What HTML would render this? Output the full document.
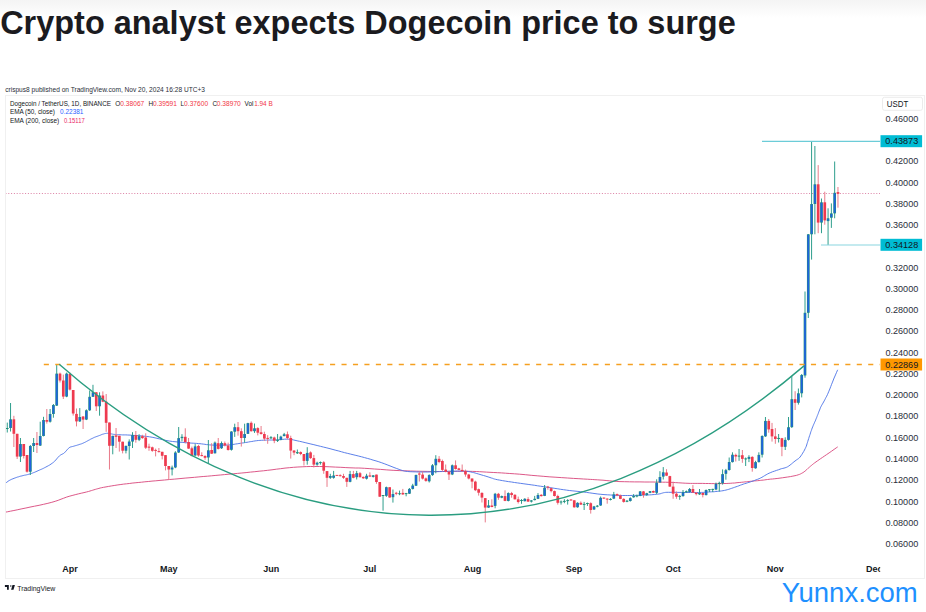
<!DOCTYPE html>
<html><head><meta charset="utf-8"><title>Dogecoin chart</title>
<style>html,body{margin:0;padding:0;background:#fff;}body{width:926px;height:612px;overflow:hidden;position:relative;font-family:"Liberation Sans",sans-serif;}</style>
</head><body>
<svg width="926" height="612" viewBox="0 0 926 612" style="position:absolute;left:0;top:0">
<defs><linearGradient id="tg" x1="0" y1="0" x2="0" y2="1"><stop offset="0" stop-color="#f4f4f4"/><stop offset="1" stop-color="#ffffff"/></linearGradient><clipPath id="plot"><rect x="6" y="96" width="874" height="458"/></clipPath></defs>
<rect x="0" y="0" width="926" height="18" fill="url(#tg)"/>
<rect x="5.5" y="95.5" width="919" height="483" fill="none" stroke="#f0f0f0" stroke-width="1"/>
<text x="0.2" y="34.3" font-family="Liberation Sans" font-weight="700" font-size="33.2" textLength="735.5" lengthAdjust="spacingAndGlyphs" fill="#1b1b1f">Crypto analyst expects Dogecoin price to surge</text>
<text x="5.2" y="91.5" font-family="Liberation Sans" font-size="6.6" fill="#2a2e39">crispus8 published on TradingView.com, Nov 20, 2024 16:28 UTC+3</text>
<text x="9.9" y="106" font-family="Liberation Sans" font-size="6.4" textLength="101" lengthAdjust="spacingAndGlyphs" fill="#131722">Dogecoin / TetherUS, 1D, BINANCE</text>
<text x="115.3" y="106" font-family="Liberation Sans" font-size="6.4" fill="#131722">O</text><text x="120.3" y="106" font-family="Liberation Sans" font-size="6.4" textLength="24" lengthAdjust="spacingAndGlyphs" fill="#f23645">0.38067</text>
<text x="148.6" y="106" font-family="Liberation Sans" font-size="6.4" fill="#131722">H</text><text x="153.0" y="106" font-family="Liberation Sans" font-size="6.4" textLength="24" lengthAdjust="spacingAndGlyphs" fill="#f23645">0.39591</text>
<text x="180.5" y="106" font-family="Liberation Sans" font-size="6.4" fill="#131722">L</text><text x="184.1" y="106" font-family="Liberation Sans" font-size="6.4" textLength="24" lengthAdjust="spacingAndGlyphs" fill="#f23645">0.37600</text>
<text x="212.4" y="106" font-family="Liberation Sans" font-size="6.4" fill="#131722">C</text><text x="216.8" y="106" font-family="Liberation Sans" font-size="6.4" textLength="24" lengthAdjust="spacingAndGlyphs" fill="#f23645">0.38970</text>
<text x="244.6" y="106" font-family="Liberation Sans" font-size="6.4" fill="#131722">Vol</text><text x="254.2" y="106" font-family="Liberation Sans" font-size="6.4" fill="#f23645">1.94 B</text>
<text x="9.9" y="114.2" font-family="Liberation Sans" font-size="6.4" textLength="45" lengthAdjust="spacingAndGlyphs" fill="#131722">EMA (50, close)</text><text x="60.1" y="114.2" font-family="Liberation Sans" font-size="6.4" textLength="23.3" lengthAdjust="spacingAndGlyphs" fill="#2962ff">0.22381</text>
<text x="9.9" y="122.5" font-family="Liberation Sans" font-size="6.4" textLength="49.4" lengthAdjust="spacingAndGlyphs" fill="#131722">EMA (200, close)</text><text x="64.0" y="122.5" font-family="Liberation Sans" font-size="6.4" textLength="20.7" lengthAdjust="spacingAndGlyphs" fill="#e91e63">0.15117</text>
<rect x="882.5" y="97.3" width="40" height="13" rx="2" fill="#fff" stroke="#e6e6e6" stroke-width="0.8"/>
<text x="886.8" y="106.7" font-family="Liberation Sans" font-size="8.3" textLength="21.4" lengthAdjust="spacingAndGlyphs" fill="#131722">USDT</text>
<text x="918.3" y="121.8" text-anchor="end" font-family="Liberation Sans" font-size="9.1" fill="#2a2e39">0.46000</text>
<text x="918.3" y="164.3" text-anchor="end" font-family="Liberation Sans" font-size="9.1" fill="#2a2e39">0.42000</text>
<text x="918.3" y="185.6" text-anchor="end" font-family="Liberation Sans" font-size="9.1" fill="#2a2e39">0.40000</text>
<text x="918.3" y="206.8" text-anchor="end" font-family="Liberation Sans" font-size="9.1" fill="#2a2e39">0.38000</text>
<text x="918.3" y="228.1" text-anchor="end" font-family="Liberation Sans" font-size="9.1" fill="#2a2e39">0.36000</text>
<text x="918.3" y="270.6" text-anchor="end" font-family="Liberation Sans" font-size="9.1" fill="#2a2e39">0.32000</text>
<text x="918.3" y="291.9" text-anchor="end" font-family="Liberation Sans" font-size="9.1" fill="#2a2e39">0.30000</text>
<text x="918.3" y="313.1" text-anchor="end" font-family="Liberation Sans" font-size="9.1" fill="#2a2e39">0.28000</text>
<text x="918.3" y="334.4" text-anchor="end" font-family="Liberation Sans" font-size="9.1" fill="#2a2e39">0.26000</text>
<text x="918.3" y="355.7" text-anchor="end" font-family="Liberation Sans" font-size="9.1" fill="#2a2e39">0.24000</text>
<text x="918.3" y="376.9" text-anchor="end" font-family="Liberation Sans" font-size="9.1" fill="#2a2e39">0.22000</text>
<text x="918.3" y="398.2" text-anchor="end" font-family="Liberation Sans" font-size="9.1" fill="#2a2e39">0.20000</text>
<text x="918.3" y="419.4" text-anchor="end" font-family="Liberation Sans" font-size="9.1" fill="#2a2e39">0.18000</text>
<text x="918.3" y="440.7" text-anchor="end" font-family="Liberation Sans" font-size="9.1" fill="#2a2e39">0.16000</text>
<text x="918.3" y="462.0" text-anchor="end" font-family="Liberation Sans" font-size="9.1" fill="#2a2e39">0.14000</text>
<text x="918.3" y="483.2" text-anchor="end" font-family="Liberation Sans" font-size="9.1" fill="#2a2e39">0.12000</text>
<text x="918.3" y="504.5" text-anchor="end" font-family="Liberation Sans" font-size="9.1" fill="#2a2e39">0.10000</text>
<text x="918.3" y="525.7" text-anchor="end" font-family="Liberation Sans" font-size="9.1" fill="#2a2e39">0.08000</text>
<text x="918.3" y="547.0" text-anchor="end" font-family="Liberation Sans" font-size="9.1" fill="#2a2e39">0.06000</text>
<text x="70" y="572.1" text-anchor="middle" font-family="Liberation Sans" font-weight="700" font-size="9" fill="#131722">Apr</text>
<text x="168.7" y="572.1" text-anchor="middle" font-family="Liberation Sans" font-weight="700" font-size="9" fill="#131722">May</text>
<text x="271.2" y="572.1" text-anchor="middle" font-family="Liberation Sans" font-weight="700" font-size="9" fill="#131722">Jun</text>
<text x="369.7" y="572.1" text-anchor="middle" font-family="Liberation Sans" font-weight="700" font-size="9" fill="#131722">Jul</text>
<text x="472.4" y="572.1" text-anchor="middle" font-family="Liberation Sans" font-weight="700" font-size="9" fill="#131722">Aug</text>
<text x="574.1" y="572.1" text-anchor="middle" font-family="Liberation Sans" font-weight="700" font-size="9" fill="#131722">Sep</text>
<text x="673.2" y="572.1" text-anchor="middle" font-family="Liberation Sans" font-weight="700" font-size="9" fill="#131722">Oct</text>
<text x="775.3" y="572.1" text-anchor="middle" font-family="Liberation Sans" font-weight="700" font-size="9" fill="#131722">Nov</text>
<clipPath id="dc"><rect x="0" y="550" width="880.2" height="30"/></clipPath><text clip-path="url(#dc)" x="874.3" y="572.1" text-anchor="middle" font-family="Liberation Sans" font-weight="700" font-size="9" fill="#131722">Dec</text>
<g clip-path="url(#plot)">
<line x1="5.5" y1="193.5" x2="880" y2="193.5" stroke="#d8729a" stroke-width="0.9" stroke-dasharray="1,1.8"/>
<polyline points="5.2,512.2 7.4,511.8 10.4,511.2 13.9,510.5 17.8,509.7 21.9,508.8 25.9,508.0 30.0,507.1 34.5,506.2 39.1,505.3 43.6,504.3 47.9,503.3 51.8,502.3 55.2,501.3 58.2,500.3 61.0,499.2 63.7,498.2 66.3,497.2 69.1,496.3 72.1,495.5 75.2,494.7 78.3,493.9 81.3,493.2 84.0,492.6 86.4,492.0 88.4,491.5 90.0,491.0 91.4,490.6 92.7,490.2 93.9,489.8 95.3,489.4 96.6,489.0 97.8,488.7 98.9,488.4 100.2,488.0 101.7,487.7 103.6,487.3 106.0,486.9 108.7,486.4 111.7,485.9 114.8,485.4 117.9,484.9 120.9,484.5 123.7,484.1 126.5,483.8 129.3,483.5 132.1,483.1 135.1,482.8 138.2,482.5 141.5,482.2 144.8,481.8 148.3,481.5 152.0,481.1 155.8,480.8 160.0,480.4 164.6,480.0 169.5,479.5 174.7,479.1 180.0,478.6 185.1,478.1 190.0,477.7 194.6,477.3 198.9,476.9 203.2,476.5 207.4,476.2 211.6,475.8 215.9,475.4 220.2,475.0 224.5,474.6 228.9,474.2 233.2,473.8 237.5,473.4 241.8,473.0 246.1,472.6 250.4,472.1 254.8,471.7 259.1,471.2 263.4,470.8 267.7,470.3 272.0,469.8 276.3,469.2 280.6,468.7 285.0,468.1 289.3,467.7 293.6,467.3 297.9,467.0 302.1,466.8 306.3,466.6 310.5,466.5 314.9,466.5 319.5,466.5 324.5,466.6 329.9,466.8 335.5,467.1 340.8,467.3 345.8,467.6 350.0,467.8 353.1,467.9 355.3,468.0 357.0,468.0 358.8,468.0 361.1,468.1 364.5,468.3 369.1,468.6 374.5,469.0 380.6,469.4 386.8,469.9 393.1,470.3 399.1,470.6 404.9,470.8 410.6,471.0 416.4,471.2 422.1,471.3 427.8,471.4 433.6,471.5 439.5,471.5 445.6,471.5 451.7,471.4 457.6,471.3 463.2,471.3 468.2,471.3 472.5,471.4 476.3,471.5 479.7,471.7 483.0,471.9 486.4,472.1 490.0,472.3 493.8,472.5 497.6,472.7 501.4,472.9 505.5,473.2 509.8,473.5 514.5,473.8 519.7,474.2 525.3,474.7 531.2,475.3 537.2,475.8 543.2,476.3 549.1,476.8 555.1,477.2 561.3,477.6 567.5,478.0 573.4,478.4 578.9,478.7 583.6,479.0 587.3,479.2 590.3,479.4 592.7,479.5 594.9,479.7 597.3,479.8 600.0,480.0 603.0,480.2 606.1,480.5 609.2,480.8 612.5,481.1 616.1,481.4 620.0,481.6 624.4,481.7 629.4,481.8 634.6,481.9 639.9,481.9 644.8,482.0 649.2,482.0 653.0,482.0 656.4,482.1 659.5,482.1 662.5,482.2 665.5,482.2 668.6,482.3 671.9,482.4 675.3,482.6 678.8,482.8 682.1,483.0 685.2,483.2 688.0,483.3 690.4,483.4 692.4,483.4 694.1,483.4 695.9,483.4 697.8,483.4 700.0,483.4 702.6,483.4 705.5,483.5 708.6,483.5 711.7,483.6 714.6,483.6 717.3,483.6 719.7,483.6 721.9,483.6 724.0,483.5 726.1,483.5 728.1,483.4 730.2,483.3 732.4,483.1 734.7,483.0 737.0,482.7 739.2,482.5 741.3,482.3 743.2,482.1 744.9,481.9 746.4,481.8 747.8,481.6 749.1,481.5 750.4,481.3 751.8,481.2 753.2,481.1 754.7,480.9 756.1,480.8 757.6,480.7 759.1,480.5 760.5,480.4 761.9,480.2 763.3,480.1 764.7,479.9 766.1,479.7 767.5,479.5 769.1,479.3 770.7,479.1 772.4,479.0 774.2,478.8 776.0,478.6 777.9,478.4 780.0,478.1 782.3,477.8 785.0,477.4 787.7,477.0 790.4,476.6 792.9,476.1 795.0,475.7 796.7,475.3 798.2,474.8 799.5,474.4 800.6,473.9 801.7,473.3 802.8,472.7 803.9,472.0 804.9,471.2 805.9,470.4 806.8,469.5 807.7,468.6 808.7,467.8 809.6,467.0 810.5,466.2 811.4,465.5 812.3,464.7 813.4,463.8 814.6,462.9 816.0,461.9 817.4,460.9 819.0,459.8 820.7,458.6 822.5,457.4 824.4,456.1 826.6,454.6 829.1,452.9 831.7,451.1 834.1,449.4 836.2,447.9 837.7,446.9" fill="none" stroke="#d8457a" stroke-width="0.9"/>
<polyline points="5.2,483.4 5.7,483.0 6.3,482.6 7.1,482.0 8.0,481.3 8.9,480.7 9.8,480.2 10.8,479.7 11.8,479.2 12.9,478.8 14.1,478.3 15.2,477.9 16.3,477.5 17.4,477.1 18.6,476.8 19.7,476.4 20.8,476.1 21.9,475.9 22.9,475.6 23.8,475.4 24.6,475.2 25.3,475.1 26.0,474.9 26.7,474.8 27.5,474.6 28.3,474.4 29.1,474.2 30.0,473.9 30.8,473.6 31.8,473.3 32.7,473.0 33.7,472.6 34.8,472.2 35.9,471.7 37.0,471.2 38.1,470.7 39.2,470.2 40.3,469.7 41.3,469.3 42.4,468.8 43.5,468.3 44.6,467.7 45.8,467.1 47.1,466.4 48.4,465.7 49.8,464.9 51.1,464.0 52.4,463.1 53.6,462.2 54.7,461.2 55.7,460.1 56.7,458.9 57.6,457.8 58.5,456.8 59.4,455.9 60.3,455.2 61.1,454.7 61.9,454.3 62.7,453.9 63.5,453.5 64.3,452.9 65.1,452.1 65.9,451.2 66.8,450.2 67.6,449.2 68.4,448.4 69.2,447.7 70.0,447.2 70.8,446.9 71.7,446.7 72.5,446.5 73.3,446.3 74.1,446.1 74.9,445.8 75.7,445.6 76.5,445.4 77.4,445.1 78.2,444.9 79.0,444.6 79.8,444.3 80.6,444.1 81.5,443.8 82.3,443.5 83.1,443.1 83.9,442.8 84.7,442.4 85.5,442.0 86.4,441.5 87.2,441.1 88.0,440.6 88.8,440.2 89.6,439.8 90.4,439.3 91.2,438.9 92.1,438.5 92.9,438.1 93.7,437.7 94.5,437.3 95.3,437.0 96.2,436.7 97.0,436.4 97.8,436.1 98.6,435.8 99.4,435.5 100.3,435.2 101.1,434.8 101.9,434.5 102.7,434.2 103.5,434.0 104.2,433.8 104.8,433.6 105.4,433.5 106.1,433.4 106.7,433.3 107.5,433.3 108.4,433.4 109.3,433.5 110.2,433.7 111.2,433.9 112.3,434.1 113.3,434.3 114.3,434.4 115.3,434.5 116.4,434.6 117.5,434.7 118.7,434.7 120.0,434.8 121.4,434.8 122.7,434.9 124.2,434.9 125.8,434.9 127.7,435.0 130.0,435.1 132.7,435.3 135.8,435.5 139.2,435.7 142.7,436.0 146.2,436.4 149.6,436.8 152.9,437.4 156.1,438.1 159.4,438.9 162.7,439.7 165.9,440.4 169.2,441.0 172.6,441.5 176.0,441.8 179.5,442.2 182.9,442.4 186.0,442.7 188.8,442.9 191.2,443.1 193.2,443.2 195.0,443.3 196.7,443.4 198.3,443.6 200.0,443.7 201.7,443.9 203.3,444.1 204.9,444.3 206.5,444.6 208.1,444.7 209.7,444.9 211.3,445.0 212.9,445.1 214.5,445.1 216.2,445.2 217.8,445.2 219.4,445.2 221.0,445.2 222.7,445.2 224.3,445.2 225.9,445.1 227.6,445.0 229.2,444.9 230.8,444.7 232.4,444.5 234.1,444.3 235.7,444.0 237.3,443.8 238.9,443.5 240.5,443.3 242.1,443.0 243.8,442.8 245.4,442.5 247.0,442.3 248.6,442.0 250.2,441.7 251.8,441.5 253.4,441.2 255.1,440.9 256.7,440.7 258.3,440.5 259.9,440.4 261.5,440.3 263.2,440.2 264.8,440.2 266.4,440.1 268.0,440.1 269.6,440.0 271.2,440.0 272.8,440.0 274.5,439.9 276.1,439.9 277.7,439.8 279.4,439.7 281.0,439.5 282.7,439.4 284.4,439.2 286.0,439.1 287.5,439.1 288.8,439.2 289.9,439.3 290.9,439.4 292.0,439.6 293.3,439.9 295.0,440.3 297.1,440.8 299.6,441.3 302.2,441.9 305.1,442.6 308.0,443.3 310.9,444.0 313.9,444.7 317.1,445.5 320.4,446.3 323.6,447.1 326.9,447.9 330.0,448.7 333.0,449.5 335.9,450.3 338.8,451.0 341.6,451.8 344.4,452.6 347.3,453.3 350.2,454.0 353.0,454.7 355.9,455.4 358.8,456.1 361.6,456.8 364.5,457.6 367.4,458.4 370.3,459.2 373.1,460.1 376.0,460.9 378.9,461.8 381.8,462.8 384.8,463.9 387.9,465.1 391.0,466.3 394.0,467.5 396.7,468.5 399.1,469.4 400.9,470.0 402.3,470.5 403.4,470.8 404.5,471.1 405.9,471.3 407.7,471.5 410.1,471.7 412.8,471.8 415.8,471.9 418.9,472.0 422.0,472.0 425.0,472.0 427.9,472.0 430.8,471.9 433.7,471.8 436.5,471.7 439.4,471.6 442.3,471.5 445.3,471.4 448.4,471.3 451.4,471.2 454.4,471.2 457.1,471.1 459.5,471.1 461.4,471.1 463.0,471.1 464.4,471.2 465.6,471.2 466.9,471.3 468.2,471.5 469.6,471.7 470.9,472.0 472.2,472.3 473.6,472.6 475.1,473.0 476.8,473.5 478.8,474.1 481.1,474.8 483.5,475.5 485.9,476.2 488.1,476.9 490.0,477.5 491.4,478.0 492.5,478.3 493.4,478.7 494.4,479.0 495.6,479.3 497.3,479.7 499.6,480.1 502.3,480.6 505.3,481.1 508.4,481.6 511.5,482.0 514.5,482.5 517.4,482.9 520.3,483.3 523.1,483.7 526.0,484.1 528.9,484.5 531.8,484.9 534.7,485.3 537.6,485.8 540.4,486.2 543.3,486.6 546.2,487.1 549.1,487.5 552.0,487.9 554.9,488.4 557.8,488.8 560.6,489.3 563.5,489.7 566.4,490.1 569.3,490.5 572.1,490.8 575.0,491.1 577.9,491.4 580.7,491.7 583.6,492.0 586.5,492.4 589.3,492.8 592.1,493.2 595.0,493.6 597.9,494.0 600.9,494.3 604.0,494.6 607.3,494.8 610.6,495.0 613.9,495.2 617.1,495.3 620.0,495.4 622.7,495.5 625.2,495.5 627.6,495.5 629.9,495.5 632.2,495.4 634.6,495.4 637.1,495.4 639.6,495.3 642.2,495.2 644.7,495.1 647.1,495.0 649.2,494.9 651.2,494.8 653.0,494.6 654.7,494.5 656.2,494.3 657.6,494.2 658.9,494.0 660.0,493.8 660.9,493.6 661.6,493.3 662.3,493.1 663.0,492.9 663.7,492.7 664.3,492.6 664.8,492.5 665.2,492.4 665.9,492.4 666.9,492.3 668.6,492.3 671.1,492.3 674.3,492.3 677.9,492.4 681.5,492.4 685.0,492.5 688.0,492.5 690.5,492.5 692.7,492.5 694.7,492.5 696.5,492.5 698.3,492.5 700.0,492.5 701.6,492.4 703.1,492.4 704.5,492.3 705.9,492.2 707.2,492.1 708.6,492.0 710.0,491.9 711.5,491.8 713.0,491.8 714.4,491.7 715.9,491.5 717.3,491.4 718.7,491.2 720.2,491.1 721.6,490.9 723.0,490.7 724.5,490.4 725.9,490.1 727.3,489.7 728.8,489.3 730.2,488.8 731.7,488.3 733.2,487.8 734.6,487.3 736.0,486.8 737.5,486.3 738.9,485.8 740.3,485.2 741.8,484.7 743.2,484.2 744.6,483.7 746.1,483.3 747.5,482.8 748.9,482.4 750.4,481.9 751.8,481.4 753.2,480.9 754.7,480.4 756.1,479.8 757.6,479.3 759.1,478.7 760.5,478.0 761.9,477.3 763.3,476.5 764.7,475.6 766.1,474.8 767.5,474.0 769.1,473.2 770.8,472.5 772.7,471.7 774.6,471.1 776.5,470.4 778.4,469.8 780.0,469.2 781.4,468.7 782.8,468.4 784.0,468.1 785.1,467.8 786.3,467.4 787.5,466.8 788.8,466.0 790.1,465.0 791.4,464.0 792.7,462.9 793.9,461.9 795.0,461.0 796.0,460.3 796.8,459.7 797.6,459.2 798.4,458.7 799.2,458.0 800.0,457.1 800.9,455.9 801.8,454.6 802.7,453.1 803.7,451.5 804.5,450.0 805.2,448.6 805.8,447.3 806.3,446.2 806.7,445.0 807.0,443.8 807.4,442.7 807.8,441.4 808.2,440.0 808.7,438.6 809.1,437.1 809.6,435.7 810.1,434.3 810.5,432.9 810.9,431.6 811.4,430.4 811.8,429.2 812.2,428.0 812.7,426.9 813.1,425.8 813.5,424.8 814.0,423.8 814.4,422.8 814.8,421.9 815.3,420.9 815.7,419.9 816.1,418.8 816.6,417.7 817.0,416.6 817.4,415.5 817.9,414.4 818.3,413.3 818.7,412.2 819.1,411.1 819.6,410.0 820.0,408.9 820.4,407.8 820.9,406.8 821.4,405.8 821.9,404.9 822.5,403.9 823.0,403.0 823.6,402.0 824.2,400.9 824.8,399.8 825.4,398.6 826.0,397.4 826.7,396.2 827.4,394.7 828.1,393.1 828.9,391.2 829.8,389.0 830.7,386.7 831.6,384.3 832.5,382.1 833.3,380.0 834.1,378.0 835.0,376.0 835.8,374.1 836.6,372.3 837.2,370.9 837.7,369.8" fill="none" stroke="#4a72e6" stroke-width="0.9"/>
<g stroke-width="1"><line x1="7.27" y1="422.6" x2="7.27" y2="432.5" stroke="#2e9e8c"/><line x1="10.56" y1="403.0" x2="10.56" y2="431.5" stroke="#2e9e8c"/><line x1="13.86" y1="415.8" x2="13.86" y2="447.0" stroke="#e97a89"/><line x1="17.16" y1="433.8" x2="17.16" y2="459.0" stroke="#e97a89"/><line x1="20.45" y1="438.0" x2="20.45" y2="462.0" stroke="#2e9e8c"/><line x1="23.75" y1="444.0" x2="23.75" y2="458.5" stroke="#e97a89"/><line x1="27.05" y1="455.0" x2="27.05" y2="472.6" stroke="#e97a89"/><line x1="30.34" y1="445.0" x2="30.34" y2="475.0" stroke="#2e9e8c"/><line x1="33.64" y1="438.0" x2="33.64" y2="452.0" stroke="#2e9e8c"/><line x1="36.93" y1="432.0" x2="36.93" y2="453.0" stroke="#e97a89"/><line x1="40.23" y1="421.7" x2="40.23" y2="446.0" stroke="#2e9e8c"/><line x1="43.53" y1="416.8" x2="43.53" y2="436.4" stroke="#2e9e8c"/><line x1="46.82" y1="409.0" x2="46.82" y2="423.6" stroke="#e97a89"/><line x1="50.12" y1="409.0" x2="50.12" y2="422.6" stroke="#2e9e8c"/><line x1="53.42" y1="404.0" x2="53.42" y2="417.7" stroke="#2e9e8c"/><line x1="56.71" y1="364.0" x2="56.71" y2="406.0" stroke="#2e9e8c"/><line x1="60.01" y1="372.6" x2="60.01" y2="382.5" stroke="#e97a89"/><line x1="63.31" y1="374.6" x2="63.31" y2="399.0" stroke="#e97a89"/><line x1="66.60" y1="372.6" x2="66.60" y2="397.2" stroke="#2e9e8c"/><line x1="69.90" y1="372.6" x2="69.90" y2="390.5" stroke="#e97a89"/><line x1="73.19" y1="390.0" x2="73.19" y2="415.6" stroke="#e97a89"/><line x1="76.49" y1="408.5" x2="76.49" y2="426.4" stroke="#e97a89"/><line x1="79.79" y1="408.1" x2="79.79" y2="422.0" stroke="#2e9e8c"/><line x1="83.08" y1="416.0" x2="83.08" y2="429.0" stroke="#e97a89"/><line x1="86.38" y1="409.4" x2="86.38" y2="420.1" stroke="#2e9e8c"/><line x1="89.68" y1="390.5" x2="89.68" y2="411.0" stroke="#2e9e8c"/><line x1="92.97" y1="384.8" x2="92.97" y2="396.8" stroke="#2e9e8c"/><line x1="96.27" y1="392.0" x2="96.27" y2="411.0" stroke="#e97a89"/><line x1="99.57" y1="392.3" x2="99.57" y2="415.7" stroke="#2e9e8c"/><line x1="102.86" y1="391.4" x2="102.86" y2="402.2" stroke="#e97a89"/><line x1="106.16" y1="394.0" x2="106.16" y2="431.8" stroke="#e97a89"/><line x1="109.46" y1="422.5" x2="109.46" y2="469.5" stroke="#e97a89"/><line x1="112.75" y1="435.8" x2="112.75" y2="454.3" stroke="#2e9e8c"/><line x1="116.05" y1="428.0" x2="116.05" y2="448.0" stroke="#e97a89"/><line x1="119.34" y1="435.8" x2="119.34" y2="451.6" stroke="#e97a89"/><line x1="122.64" y1="441.7" x2="122.64" y2="453.4" stroke="#e97a89"/><line x1="125.94" y1="445.8" x2="125.94" y2="453.4" stroke="#2e9e8c"/><line x1="129.23" y1="439.4" x2="129.23" y2="459.5" stroke="#2e9e8c"/><line x1="132.53" y1="432.2" x2="132.53" y2="448.0" stroke="#2e9e8c"/><line x1="135.83" y1="431.0" x2="135.83" y2="442.7" stroke="#e97a89"/><line x1="139.12" y1="434.2" x2="139.12" y2="441.1" stroke="#2e9e8c"/><line x1="142.42" y1="434.8" x2="142.42" y2="438.8" stroke="#e97a89"/><line x1="145.72" y1="433.3" x2="145.72" y2="449.0" stroke="#e97a89"/><line x1="149.01" y1="443.7" x2="149.01" y2="450.8" stroke="#e97a89"/><line x1="152.31" y1="446.6" x2="152.31" y2="451.8" stroke="#e97a89"/><line x1="155.61" y1="448.6" x2="155.61" y2="456.4" stroke="#e97a89"/><line x1="158.90" y1="448.0" x2="158.90" y2="452.5" stroke="#e97a89"/><line x1="162.20" y1="451.8" x2="162.20" y2="459.4" stroke="#e97a89"/><line x1="165.49" y1="455.1" x2="165.49" y2="470.4" stroke="#e97a89"/><line x1="168.79" y1="466.0" x2="168.79" y2="480.0" stroke="#e97a89"/><line x1="172.09" y1="465.6" x2="172.09" y2="475.4" stroke="#2e9e8c"/><line x1="175.38" y1="451.2" x2="175.38" y2="468.2" stroke="#2e9e8c"/><line x1="178.68" y1="427.0" x2="178.68" y2="453.0" stroke="#2e9e8c"/><line x1="181.98" y1="434.2" x2="181.98" y2="441.4" stroke="#2e9e8c"/><line x1="185.27" y1="428.3" x2="185.27" y2="443.4" stroke="#e97a89"/><line x1="188.57" y1="438.0" x2="188.57" y2="448.9" stroke="#e97a89"/><line x1="191.87" y1="446.6" x2="191.87" y2="456.3" stroke="#e97a89"/><line x1="195.16" y1="444.1" x2="195.16" y2="456.3" stroke="#2e9e8c"/><line x1="198.46" y1="444.9" x2="198.46" y2="456.7" stroke="#e97a89"/><line x1="201.75" y1="452.3" x2="201.75" y2="456.3" stroke="#e97a89"/><line x1="205.05" y1="455.2" x2="205.05" y2="459.8" stroke="#e97a89"/><line x1="208.35" y1="440.0" x2="208.35" y2="463.2" stroke="#2e9e8c"/><line x1="211.64" y1="443.2" x2="211.64" y2="454.0" stroke="#e97a89"/><line x1="214.94" y1="441.5" x2="214.94" y2="453.5" stroke="#2e9e8c"/><line x1="218.24" y1="438.0" x2="218.24" y2="449.5" stroke="#e97a89"/><line x1="221.53" y1="441.5" x2="221.53" y2="448.9" stroke="#2e9e8c"/><line x1="224.83" y1="441.5" x2="224.83" y2="446.4" stroke="#e97a89"/><line x1="228.13" y1="442.6" x2="228.13" y2="450.6" stroke="#e97a89"/><line x1="231.42" y1="431.2" x2="231.42" y2="450.6" stroke="#2e9e8c"/><line x1="234.72" y1="423.7" x2="234.72" y2="436.9" stroke="#2e9e8c"/><line x1="238.02" y1="422.0" x2="238.02" y2="435.7" stroke="#e97a89"/><line x1="241.31" y1="428.3" x2="241.31" y2="446.6" stroke="#e97a89"/><line x1="244.61" y1="423.7" x2="244.61" y2="442.6" stroke="#2e9e8c"/><line x1="247.90" y1="422.8" x2="247.90" y2="434.0" stroke="#2e9e8c"/><line x1="251.20" y1="421.4" x2="251.20" y2="431.7" stroke="#e97a89"/><line x1="254.50" y1="423.5" x2="254.50" y2="432.9" stroke="#2e9e8c"/><line x1="257.79" y1="427.2" x2="257.79" y2="435.4" stroke="#e97a89"/><line x1="261.09" y1="426.0" x2="261.09" y2="434.6" stroke="#e97a89"/><line x1="264.39" y1="431.7" x2="264.39" y2="440.9" stroke="#e97a89"/><line x1="267.68" y1="435.2" x2="267.68" y2="443.8" stroke="#e97a89"/><line x1="270.98" y1="436.1" x2="270.98" y2="438.8" stroke="#2e9e8c"/><line x1="274.28" y1="436.6" x2="274.28" y2="443.2" stroke="#e97a89"/><line x1="277.57" y1="434.0" x2="277.57" y2="442.0" stroke="#2e9e8c"/><line x1="280.87" y1="435.7" x2="280.87" y2="440.3" stroke="#2e9e8c"/><line x1="284.16" y1="432.9" x2="284.16" y2="436.3" stroke="#2e9e8c"/><line x1="287.46" y1="431.5" x2="287.46" y2="439.5" stroke="#e97a89"/><line x1="290.76" y1="435.7" x2="290.76" y2="458.6" stroke="#e97a89"/><line x1="294.05" y1="450.0" x2="294.05" y2="455.2" stroke="#e97a89"/><line x1="297.35" y1="449.5" x2="297.35" y2="454.0" stroke="#2e9e8c"/><line x1="300.65" y1="451.4" x2="300.65" y2="455.2" stroke="#e97a89"/><line x1="303.94" y1="454.0" x2="303.94" y2="465.5" stroke="#e97a89"/><line x1="307.24" y1="447.2" x2="307.24" y2="464.7" stroke="#2e9e8c"/><line x1="310.54" y1="451.4" x2="310.54" y2="458.9" stroke="#e97a89"/><line x1="313.83" y1="454.9" x2="313.83" y2="467.5" stroke="#e97a89"/><line x1="317.13" y1="461.7" x2="317.13" y2="465.7" stroke="#2e9e8c"/><line x1="320.43" y1="461.5" x2="320.43" y2="464.6" stroke="#2e9e8c"/><line x1="323.72" y1="461.2" x2="323.72" y2="473.8" stroke="#e97a89"/><line x1="327.02" y1="471.1" x2="327.02" y2="486.9" stroke="#e97a89"/><line x1="330.31" y1="473.8" x2="330.31" y2="478.9" stroke="#2e9e8c"/><line x1="333.61" y1="470.9" x2="333.61" y2="478.7" stroke="#2e9e8c"/><line x1="336.91" y1="475.0" x2="336.91" y2="476.0" stroke="#e97a89"/><line x1="340.20" y1="474.3" x2="340.20" y2="476.4" stroke="#e97a89"/><line x1="343.50" y1="473.8" x2="343.50" y2="478.9" stroke="#e97a89"/><line x1="346.80" y1="477.8" x2="346.80" y2="486.9" stroke="#e97a89"/><line x1="350.09" y1="470.9" x2="350.09" y2="482.3" stroke="#2e9e8c"/><line x1="353.39" y1="470.9" x2="353.39" y2="478.3" stroke="#e97a89"/><line x1="356.69" y1="470.9" x2="356.69" y2="479.5" stroke="#2e9e8c"/><line x1="359.98" y1="472.0" x2="359.98" y2="477.5" stroke="#e97a89"/><line x1="363.28" y1="476.4" x2="363.28" y2="478.9" stroke="#e97a89"/><line x1="366.57" y1="473.8" x2="366.57" y2="479.5" stroke="#2e9e8c"/><line x1="369.87" y1="472.3" x2="369.87" y2="476.9" stroke="#e97a89"/><line x1="373.17" y1="475.0" x2="373.17" y2="477.5" stroke="#2e9e8c"/><line x1="376.46" y1="474.6" x2="376.46" y2="483.8" stroke="#e97a89"/><line x1="379.76" y1="482.0" x2="379.76" y2="496.9" stroke="#e97a89"/><line x1="383.06" y1="495.2" x2="383.06" y2="510.7" stroke="#2e9e8c"/><line x1="386.35" y1="486.6" x2="386.35" y2="496.9" stroke="#2e9e8c"/><line x1="389.65" y1="487.2" x2="389.65" y2="497.8" stroke="#e97a89"/><line x1="392.95" y1="489.5" x2="392.95" y2="502.6" stroke="#2e9e8c"/><line x1="396.24" y1="491.8" x2="396.24" y2="495.2" stroke="#e97a89"/><line x1="399.54" y1="490.6" x2="399.54" y2="495.2" stroke="#2e9e8c"/><line x1="402.84" y1="488.9" x2="402.84" y2="494.9" stroke="#e97a89"/><line x1="406.13" y1="492.9" x2="406.13" y2="496.3" stroke="#2e9e8c"/><line x1="409.43" y1="488.0" x2="409.43" y2="494.0" stroke="#2e9e8c"/><line x1="412.72" y1="483.8" x2="412.72" y2="489.5" stroke="#2e9e8c"/><line x1="416.02" y1="474.6" x2="416.02" y2="486.0" stroke="#2e9e8c"/><line x1="419.32" y1="471.7" x2="419.32" y2="481.5" stroke="#e97a89"/><line x1="422.61" y1="471.7" x2="422.61" y2="479.5" stroke="#e97a89"/><line x1="425.91" y1="477.5" x2="425.91" y2="481.8" stroke="#e97a89"/><line x1="429.21" y1="474.3" x2="429.21" y2="482.5" stroke="#2e9e8c"/><line x1="432.50" y1="464.1" x2="432.50" y2="475.8" stroke="#2e9e8c"/><line x1="435.80" y1="455.2" x2="435.80" y2="473.3" stroke="#2e9e8c"/><line x1="439.10" y1="456.1" x2="439.10" y2="463.2" stroke="#e97a89"/><line x1="442.39" y1="459.6" x2="442.39" y2="471.5" stroke="#e97a89"/><line x1="445.69" y1="464.5" x2="445.69" y2="472.3" stroke="#e97a89"/><line x1="448.98" y1="470.8" x2="448.98" y2="480.0" stroke="#e97a89"/><line x1="452.28" y1="464.5" x2="452.28" y2="475.1" stroke="#2e9e8c"/><line x1="455.58" y1="460.4" x2="455.58" y2="469.6" stroke="#e97a89"/><line x1="458.87" y1="467.8" x2="458.87" y2="470.2" stroke="#e97a89"/><line x1="462.17" y1="464.5" x2="462.17" y2="471.5" stroke="#e97a89"/><line x1="465.47" y1="469.6" x2="465.47" y2="476.7" stroke="#e97a89"/><line x1="468.76" y1="473.9" x2="468.76" y2="479.4" stroke="#e97a89"/><line x1="472.06" y1="478.5" x2="472.06" y2="488.3" stroke="#e97a89"/><line x1="475.36" y1="480.7" x2="475.36" y2="491.1" stroke="#e97a89"/><line x1="478.65" y1="488.6" x2="478.65" y2="495.6" stroke="#e97a89"/><line x1="481.95" y1="492.3" x2="481.95" y2="502.5" stroke="#e97a89"/><line x1="485.25" y1="498.1" x2="485.25" y2="522.4" stroke="#e97a89"/><line x1="488.54" y1="500.0" x2="488.54" y2="507.8" stroke="#2e9e8c"/><line x1="491.84" y1="499.3" x2="491.84" y2="507.3" stroke="#e97a89"/><line x1="495.13" y1="492.9" x2="495.13" y2="508.3" stroke="#2e9e8c"/><line x1="498.43" y1="492.9" x2="498.43" y2="499.8" stroke="#e97a89"/><line x1="501.73" y1="495.6" x2="501.73" y2="498.2" stroke="#2e9e8c"/><line x1="505.02" y1="490.3" x2="505.02" y2="501.2" stroke="#e97a89"/><line x1="508.32" y1="492.4" x2="508.32" y2="501.4" stroke="#2e9e8c"/><line x1="511.62" y1="491.9" x2="511.62" y2="497.7" stroke="#e97a89"/><line x1="514.91" y1="494.2" x2="514.91" y2="499.5" stroke="#e97a89"/><line x1="518.21" y1="496.6" x2="518.21" y2="503.5" stroke="#e97a89"/><line x1="521.51" y1="499.1" x2="521.51" y2="503.8" stroke="#2e9e8c"/><line x1="524.80" y1="498.2" x2="524.80" y2="501.4" stroke="#2e9e8c"/><line x1="528.10" y1="497.2" x2="528.10" y2="502.0" stroke="#e97a89"/><line x1="531.39" y1="500.1" x2="531.39" y2="502.5" stroke="#2e9e8c"/><line x1="534.69" y1="495.9" x2="534.69" y2="500.4" stroke="#2e9e8c"/><line x1="537.99" y1="493.1" x2="537.99" y2="499.1" stroke="#2e9e8c"/><line x1="541.28" y1="494.2" x2="541.28" y2="496.6" stroke="#e97a89"/><line x1="544.58" y1="485.0" x2="544.58" y2="496.1" stroke="#2e9e8c"/><line x1="547.88" y1="485.9" x2="547.88" y2="489.7" stroke="#e97a89"/><line x1="551.17" y1="487.7" x2="551.17" y2="492.4" stroke="#e97a89"/><line x1="554.47" y1="490.6" x2="554.47" y2="496.5" stroke="#e97a89"/><line x1="557.77" y1="494.7" x2="557.77" y2="504.6" stroke="#e97a89"/><line x1="561.06" y1="500.5" x2="561.06" y2="504.6" stroke="#2e9e8c"/><line x1="564.36" y1="499.2" x2="564.36" y2="503.2" stroke="#2e9e8c"/><line x1="567.66" y1="499.2" x2="567.66" y2="504.6" stroke="#2e9e8c"/><line x1="570.95" y1="499.2" x2="570.95" y2="500.5" stroke="#e97a89"/><line x1="574.25" y1="500.1" x2="574.25" y2="507.7" stroke="#e97a89"/><line x1="577.54" y1="502.3" x2="577.54" y2="507.7" stroke="#2e9e8c"/><line x1="580.84" y1="501.4" x2="580.84" y2="505.0" stroke="#e97a89"/><line x1="584.14" y1="501.9" x2="584.14" y2="510.0" stroke="#2e9e8c"/><line x1="587.43" y1="502.6" x2="587.43" y2="505.9" stroke="#2e9e8c"/><line x1="590.73" y1="502.3" x2="590.73" y2="513.6" stroke="#e97a89"/><line x1="594.03" y1="505.9" x2="594.03" y2="510.0" stroke="#2e9e8c"/><line x1="597.32" y1="505.0" x2="597.32" y2="507.3" stroke="#2e9e8c"/><line x1="600.62" y1="496.5" x2="600.62" y2="505.9" stroke="#2e9e8c"/><line x1="603.92" y1="497.4" x2="603.92" y2="499.0" stroke="#e97a89"/><line x1="607.21" y1="498.3" x2="607.21" y2="503.7" stroke="#e97a89"/><line x1="610.51" y1="498.2" x2="610.51" y2="500.4" stroke="#2e9e8c"/><line x1="613.80" y1="491.9" x2="613.80" y2="499.1" stroke="#2e9e8c"/><line x1="617.10" y1="493.5" x2="617.10" y2="496.2" stroke="#e97a89"/><line x1="620.40" y1="494.6" x2="620.40" y2="499.2" stroke="#e97a89"/><line x1="623.69" y1="498.2" x2="623.69" y2="502.7" stroke="#e97a89"/><line x1="626.99" y1="500.0" x2="626.99" y2="502.2" stroke="#2e9e8c"/><line x1="630.29" y1="497.3" x2="630.29" y2="501.6" stroke="#2e9e8c"/><line x1="633.58" y1="494.1" x2="633.58" y2="497.7" stroke="#2e9e8c"/><line x1="636.88" y1="494.6" x2="636.88" y2="497.3" stroke="#2e9e8c"/><line x1="640.18" y1="491.0" x2="640.18" y2="496.2" stroke="#2e9e8c"/><line x1="643.47" y1="491.0" x2="643.47" y2="497.7" stroke="#e97a89"/><line x1="646.77" y1="492.8" x2="646.77" y2="495.9" stroke="#2e9e8c"/><line x1="650.07" y1="491.0" x2="650.07" y2="493.2" stroke="#2e9e8c"/><line x1="653.36" y1="490.5" x2="653.36" y2="492.8" stroke="#e97a89"/><line x1="656.66" y1="479.3" x2="656.66" y2="494.1" stroke="#2e9e8c"/><line x1="659.95" y1="471.2" x2="659.95" y2="482.9" stroke="#2e9e8c"/><line x1="663.25" y1="467.1" x2="663.25" y2="479.5" stroke="#2e9e8c"/><line x1="666.55" y1="469.2" x2="666.55" y2="476.1" stroke="#e97a89"/><line x1="669.84" y1="475.8" x2="669.84" y2="486.9" stroke="#e97a89"/><line x1="673.14" y1="481.7" x2="673.14" y2="498.8" stroke="#e97a89"/><line x1="676.44" y1="491.5" x2="676.44" y2="498.8" stroke="#e97a89"/><line x1="679.73" y1="494.9" x2="679.73" y2="499.8" stroke="#2e9e8c"/><line x1="683.03" y1="490.0" x2="683.03" y2="496.7" stroke="#2e9e8c"/><line x1="686.33" y1="490.5" x2="686.33" y2="492.9" stroke="#2e9e8c"/><line x1="689.62" y1="488.0" x2="689.62" y2="492.5" stroke="#2e9e8c"/><line x1="692.92" y1="485.1" x2="692.92" y2="492.9" stroke="#e97a89"/><line x1="696.21" y1="492.0" x2="696.21" y2="495.4" stroke="#e97a89"/><line x1="699.51" y1="489.0" x2="699.51" y2="494.9" stroke="#2e9e8c"/><line x1="702.81" y1="492.5" x2="702.81" y2="497.4" stroke="#e97a89"/><line x1="706.10" y1="489.5" x2="706.10" y2="495.4" stroke="#2e9e8c"/><line x1="709.40" y1="489.0" x2="709.40" y2="492.0" stroke="#2e9e8c"/><line x1="712.70" y1="488.8" x2="712.70" y2="492.0" stroke="#2e9e8c"/><line x1="715.99" y1="482.6" x2="715.99" y2="490.2" stroke="#2e9e8c"/><line x1="719.29" y1="481.7" x2="719.29" y2="491.5" stroke="#2e9e8c"/><line x1="722.59" y1="469.4" x2="722.59" y2="484.6" stroke="#2e9e8c"/><line x1="725.88" y1="468.9" x2="725.88" y2="479.7" stroke="#2e9e8c"/><line x1="729.18" y1="457.5" x2="729.18" y2="470.6" stroke="#2e9e8c"/><line x1="732.48" y1="452.3" x2="732.48" y2="462.5" stroke="#2e9e8c"/><line x1="735.77" y1="453.6" x2="735.77" y2="461.5" stroke="#e97a89"/><line x1="739.07" y1="449.0" x2="739.07" y2="460.8" stroke="#2e9e8c"/><line x1="742.36" y1="450.0" x2="742.36" y2="462.8" stroke="#e97a89"/><line x1="745.66" y1="457.5" x2="745.66" y2="466.0" stroke="#2e9e8c"/><line x1="748.96" y1="455.2" x2="748.96" y2="462.1" stroke="#2e9e8c"/><line x1="752.25" y1="456.2" x2="752.25" y2="471.7" stroke="#e97a89"/><line x1="755.55" y1="460.8" x2="755.55" y2="468.7" stroke="#2e9e8c"/><line x1="758.85" y1="452.3" x2="758.85" y2="462.5" stroke="#2e9e8c"/><line x1="762.14" y1="435.3" x2="762.14" y2="457.5" stroke="#2e9e8c"/><line x1="765.44" y1="417.0" x2="765.44" y2="436.9" stroke="#2e9e8c"/><line x1="768.74" y1="419.0" x2="768.74" y2="432.7" stroke="#e97a89"/><line x1="772.03" y1="422.9" x2="772.03" y2="441.6" stroke="#e97a89"/><line x1="775.33" y1="428.1" x2="775.33" y2="443.8" stroke="#e97a89"/><line x1="778.62" y1="434.0" x2="778.62" y2="442.5" stroke="#2e9e8c"/><line x1="781.92" y1="437.9" x2="781.92" y2="456.2" stroke="#e97a89"/><line x1="785.22" y1="437.3" x2="785.22" y2="450.0" stroke="#2e9e8c"/><line x1="788.51" y1="417.0" x2="788.51" y2="440.5" stroke="#2e9e8c"/><line x1="791.81" y1="375.9" x2="791.81" y2="428.0" stroke="#2e9e8c"/><line x1="795.11" y1="391.2" x2="795.11" y2="410.0" stroke="#e97a89"/><line x1="798.40" y1="388.5" x2="798.40" y2="404.6" stroke="#2e9e8c"/><line x1="801.70" y1="374.0" x2="801.70" y2="397.4" stroke="#2e9e8c"/><line x1="805.00" y1="291.5" x2="805.00" y2="377.7" stroke="#2e9e8c"/><line x1="808.29" y1="234.0" x2="808.29" y2="318.0" stroke="#2e9e8c"/><line x1="811.59" y1="141.0" x2="811.59" y2="259.6" stroke="#2e9e8c"/><line x1="814.89" y1="146.0" x2="814.89" y2="234.3" stroke="#2e9e8c"/><line x1="818.18" y1="165.1" x2="818.18" y2="233.2" stroke="#e97a89"/><line x1="821.48" y1="198.5" x2="821.48" y2="233.2" stroke="#2e9e8c"/><line x1="824.77" y1="191.7" x2="824.77" y2="224.7" stroke="#e97a89"/><line x1="828.07" y1="208.3" x2="828.07" y2="245.0" stroke="#2e9e8c"/><line x1="831.37" y1="203.4" x2="831.37" y2="227.9" stroke="#2e9e8c"/><line x1="834.66" y1="161.5" x2="834.66" y2="218.3" stroke="#2e9e8c"/><line x1="837.96" y1="187.0" x2="837.96" y2="207.7" stroke="#e97a89"/></g>
<g><rect x="5.92" y="428.0" width="2.7" height="1.0" fill="#21907a"/><rect x="9.21" y="419.3" width="2.7" height="8.7" fill="#21907a"/><rect x="9.71" y="419.8" width="1.7" height="7.7" fill="#1f62df"/><rect x="12.51" y="419.3" width="2.7" height="14.5" fill="#ee3a4f"/><rect x="15.81" y="433.8" width="2.7" height="22.8" fill="#ee3a4f"/><rect x="19.10" y="444.0" width="2.7" height="12.6" fill="#21907a"/><rect x="19.60" y="444.5" width="1.7" height="11.6" fill="#1f62df"/><rect x="22.40" y="444.0" width="2.7" height="12.0" fill="#ee3a4f"/><rect x="25.70" y="455.0" width="2.7" height="16.7" fill="#ee3a4f"/><rect x="28.99" y="446.0" width="2.7" height="25.7" fill="#21907a"/><rect x="29.49" y="446.5" width="1.7" height="24.7" fill="#1f62df"/><rect x="32.29" y="443.0" width="2.7" height="3.0" fill="#21907a"/><rect x="32.79" y="443.5" width="1.7" height="2.0" fill="#1f62df"/><rect x="35.58" y="443.0" width="2.7" height="2.0" fill="#ee3a4f"/><rect x="38.88" y="436.0" width="2.7" height="9.6" fill="#21907a"/><rect x="39.38" y="436.5" width="1.7" height="8.6" fill="#1f62df"/><rect x="42.18" y="420.0" width="2.7" height="16.0" fill="#21907a"/><rect x="42.68" y="420.5" width="1.7" height="15.0" fill="#1f62df"/><rect x="45.47" y="420.0" width="2.7" height="1.7" fill="#ee3a4f"/><rect x="48.77" y="414.0" width="2.7" height="7.7" fill="#21907a"/><rect x="49.27" y="414.5" width="1.7" height="6.7" fill="#1f62df"/><rect x="52.07" y="405.0" width="2.7" height="9.0" fill="#21907a"/><rect x="52.57" y="405.5" width="1.7" height="8.0" fill="#1f62df"/><rect x="55.36" y="373.6" width="2.7" height="32.0" fill="#21907a"/><rect x="55.86" y="374.1" width="1.7" height="31.0" fill="#1f62df"/><rect x="58.66" y="373.6" width="2.7" height="6.9" fill="#ee3a4f"/><rect x="61.96" y="380.5" width="2.7" height="16.1" fill="#ee3a4f"/><rect x="65.25" y="373.6" width="2.7" height="23.0" fill="#21907a"/><rect x="65.75" y="374.1" width="1.7" height="22.0" fill="#1f62df"/><rect x="68.55" y="374.0" width="2.7" height="15.6" fill="#ee3a4f"/><rect x="71.84" y="390.0" width="2.7" height="23.5" fill="#ee3a4f"/><rect x="75.14" y="413.9" width="2.7" height="7.5" fill="#ee3a4f"/><rect x="78.44" y="417.0" width="2.7" height="4.4" fill="#21907a"/><rect x="78.94" y="417.5" width="1.7" height="3.4" fill="#1f62df"/><rect x="81.73" y="416.5" width="2.7" height="3.1" fill="#ee3a4f"/><rect x="85.03" y="410.3" width="2.7" height="9.3" fill="#21907a"/><rect x="85.53" y="410.8" width="1.7" height="8.3" fill="#1f62df"/><rect x="88.33" y="396.8" width="2.7" height="13.5" fill="#21907a"/><rect x="88.83" y="397.3" width="1.7" height="12.5" fill="#1f62df"/><rect x="91.62" y="392.3" width="2.7" height="4.5" fill="#21907a"/><rect x="92.12" y="392.8" width="1.7" height="3.5" fill="#1f62df"/><rect x="94.92" y="392.3" width="2.7" height="14.0" fill="#ee3a4f"/><rect x="98.22" y="395.5" width="2.7" height="10.8" fill="#21907a"/><rect x="98.72" y="396.0" width="1.7" height="9.8" fill="#1f62df"/><rect x="101.51" y="395.5" width="2.7" height="6.2" fill="#ee3a4f"/><rect x="104.81" y="401.7" width="2.7" height="21.1" fill="#ee3a4f"/><rect x="108.11" y="422.5" width="2.7" height="23.3" fill="#ee3a4f"/><rect x="111.40" y="435.8" width="2.7" height="10.0" fill="#21907a"/><rect x="111.90" y="436.3" width="1.7" height="9.0" fill="#1f62df"/><rect x="114.70" y="435.4" width="2.7" height="1.4" fill="#ee3a4f"/><rect x="117.99" y="435.8" width="2.7" height="5.9" fill="#ee3a4f"/><rect x="121.29" y="441.7" width="2.7" height="9.0" fill="#ee3a4f"/><rect x="124.59" y="445.8" width="2.7" height="4.9" fill="#21907a"/><rect x="125.09" y="446.3" width="1.7" height="3.9" fill="#1f62df"/><rect x="127.88" y="441.5" width="2.7" height="4.5" fill="#21907a"/><rect x="128.38" y="442.0" width="1.7" height="3.5" fill="#1f62df"/><rect x="131.18" y="435.1" width="2.7" height="6.5" fill="#21907a"/><rect x="131.68" y="435.6" width="1.7" height="5.5" fill="#1f62df"/><rect x="134.48" y="435.1" width="2.7" height="4.7" fill="#ee3a4f"/><rect x="137.77" y="436.2" width="2.7" height="3.6" fill="#21907a"/><rect x="138.27" y="436.7" width="1.7" height="2.6" fill="#1f62df"/><rect x="141.07" y="436.2" width="2.7" height="1.9" fill="#ee3a4f"/><rect x="144.37" y="437.5" width="2.7" height="10.2" fill="#ee3a4f"/><rect x="147.66" y="446.6" width="2.7" height="1.1" fill="#ee3a4f"/><rect x="150.96" y="447.3" width="2.7" height="3.5" fill="#ee3a4f"/><rect x="154.26" y="449.9" width="2.7" height="1.0" fill="#ee3a4f"/><rect x="157.55" y="451.1" width="2.7" height="1.0" fill="#ee3a4f"/><rect x="160.85" y="451.8" width="2.7" height="4.0" fill="#ee3a4f"/><rect x="164.14" y="455.1" width="2.7" height="10.9" fill="#ee3a4f"/><rect x="167.44" y="466.0" width="2.7" height="3.5" fill="#ee3a4f"/><rect x="170.74" y="467.5" width="2.7" height="2.0" fill="#21907a"/><rect x="171.24" y="468.0" width="1.7" height="1.0" fill="#1f62df"/><rect x="174.03" y="452.5" width="2.7" height="15.0" fill="#21907a"/><rect x="174.53" y="453.0" width="1.7" height="14.0" fill="#1f62df"/><rect x="177.33" y="438.1" width="2.7" height="14.4" fill="#21907a"/><rect x="177.83" y="438.6" width="1.7" height="13.4" fill="#1f62df"/><rect x="180.63" y="436.8" width="2.7" height="1.3" fill="#21907a"/><rect x="181.13" y="437.3" width="1.7" height="0.3" fill="#1f62df"/><rect x="183.92" y="436.8" width="2.7" height="5.2" fill="#ee3a4f"/><rect x="187.22" y="442.0" width="2.7" height="6.6" fill="#ee3a4f"/><rect x="190.52" y="448.3" width="2.7" height="7.7" fill="#ee3a4f"/><rect x="193.81" y="446.4" width="2.7" height="9.1" fill="#21907a"/><rect x="194.31" y="446.9" width="1.7" height="8.1" fill="#1f62df"/><rect x="197.11" y="446.0" width="2.7" height="9.5" fill="#ee3a4f"/><rect x="200.40" y="455.1" width="2.7" height="1.0" fill="#ee3a4f"/><rect x="203.70" y="456.0" width="2.7" height="1.8" fill="#ee3a4f"/><rect x="207.00" y="450.3" width="2.7" height="7.2" fill="#21907a"/><rect x="207.50" y="450.8" width="1.7" height="6.2" fill="#1f62df"/><rect x="210.29" y="450.0" width="2.7" height="3.7" fill="#ee3a4f"/><rect x="213.59" y="442.6" width="2.7" height="10.7" fill="#21907a"/><rect x="214.09" y="443.1" width="1.7" height="9.7" fill="#1f62df"/><rect x="216.89" y="443.2" width="2.7" height="5.7" fill="#ee3a4f"/><rect x="220.18" y="443.0" width="2.7" height="5.3" fill="#21907a"/><rect x="220.68" y="443.5" width="1.7" height="4.3" fill="#1f62df"/><rect x="223.48" y="443.2" width="2.7" height="2.3" fill="#ee3a4f"/><rect x="226.78" y="445.5" width="2.7" height="4.5" fill="#ee3a4f"/><rect x="230.07" y="431.5" width="2.7" height="18.3" fill="#21907a"/><rect x="230.57" y="432.0" width="1.7" height="17.3" fill="#1f62df"/><rect x="233.37" y="427.2" width="2.7" height="4.5" fill="#21907a"/><rect x="233.87" y="427.7" width="1.7" height="3.5" fill="#1f62df"/><rect x="236.67" y="427.2" width="2.7" height="4.0" fill="#ee3a4f"/><rect x="239.96" y="431.2" width="2.7" height="6.8" fill="#ee3a4f"/><rect x="243.26" y="434.0" width="2.7" height="4.0" fill="#21907a"/><rect x="243.76" y="434.5" width="1.7" height="3.0" fill="#1f62df"/><rect x="246.55" y="423.2" width="2.7" height="10.6" fill="#21907a"/><rect x="247.05" y="423.7" width="1.7" height="9.6" fill="#1f62df"/><rect x="249.85" y="422.8" width="2.7" height="8.4" fill="#ee3a4f"/><rect x="253.15" y="428.3" width="2.7" height="2.9" fill="#21907a"/><rect x="253.65" y="428.8" width="1.7" height="1.9" fill="#1f62df"/><rect x="256.44" y="428.1" width="2.7" height="4.6" fill="#ee3a4f"/><rect x="259.74" y="432.3" width="2.7" height="1.7" fill="#ee3a4f"/><rect x="263.04" y="434.0" width="2.7" height="4.6" fill="#ee3a4f"/><rect x="266.33" y="437.9" width="2.7" height="1.0" fill="#ee3a4f"/><rect x="269.63" y="437.2" width="2.7" height="1.2" fill="#21907a"/><rect x="272.93" y="437.5" width="2.7" height="3.2" fill="#ee3a4f"/><rect x="276.22" y="439.8" width="2.7" height="1.1" fill="#21907a"/><rect x="279.52" y="436.6" width="2.7" height="3.4" fill="#21907a"/><rect x="280.02" y="437.1" width="1.7" height="2.4" fill="#1f62df"/><rect x="282.81" y="434.3" width="2.7" height="1.8" fill="#21907a"/><rect x="283.31" y="434.8" width="1.7" height="0.8" fill="#1f62df"/><rect x="286.11" y="434.3" width="2.7" height="3.7" fill="#ee3a4f"/><rect x="289.41" y="438.0" width="2.7" height="12.6" fill="#ee3a4f"/><rect x="292.70" y="450.6" width="2.7" height="2.0" fill="#ee3a4f"/><rect x="296.00" y="452.1" width="2.7" height="1.2" fill="#21907a"/><rect x="299.30" y="452.1" width="2.7" height="1.9" fill="#ee3a4f"/><rect x="302.59" y="454.0" width="2.7" height="6.9" fill="#ee3a4f"/><rect x="305.89" y="452.9" width="2.7" height="8.0" fill="#21907a"/><rect x="306.39" y="453.4" width="1.7" height="7.0" fill="#1f62df"/><rect x="309.19" y="452.4" width="2.7" height="5.7" fill="#ee3a4f"/><rect x="312.48" y="458.1" width="2.7" height="6.5" fill="#ee3a4f"/><rect x="315.78" y="462.7" width="2.7" height="1.9" fill="#21907a"/><rect x="316.28" y="463.2" width="1.7" height="0.9" fill="#1f62df"/><rect x="319.07" y="462.1" width="2.7" height="1.0" fill="#21907a"/><rect x="322.37" y="462.3" width="2.7" height="8.4" fill="#ee3a4f"/><rect x="325.67" y="471.1" width="2.7" height="6.7" fill="#ee3a4f"/><rect x="328.96" y="476.0" width="2.7" height="1.8" fill="#21907a"/><rect x="329.46" y="476.5" width="1.7" height="0.8" fill="#1f62df"/><rect x="332.26" y="475.5" width="2.7" height="2.3" fill="#21907a"/><rect x="332.76" y="476.0" width="1.7" height="1.3" fill="#1f62df"/><rect x="335.56" y="474.9" width="2.7" height="1.0" fill="#ee3a4f"/><rect x="338.85" y="475.2" width="2.7" height="1.0" fill="#ee3a4f"/><rect x="342.15" y="476.0" width="2.7" height="1.8" fill="#ee3a4f"/><rect x="345.45" y="477.8" width="2.7" height="4.0" fill="#ee3a4f"/><rect x="348.74" y="474.1" width="2.7" height="7.7" fill="#21907a"/><rect x="349.24" y="474.6" width="1.7" height="6.7" fill="#1f62df"/><rect x="352.04" y="474.1" width="2.7" height="3.7" fill="#ee3a4f"/><rect x="355.34" y="473.2" width="2.7" height="4.0" fill="#21907a"/><rect x="355.84" y="473.7" width="1.7" height="3.0" fill="#1f62df"/><rect x="358.63" y="473.2" width="2.7" height="4.0" fill="#ee3a4f"/><rect x="361.93" y="476.9" width="2.7" height="1.4" fill="#ee3a4f"/><rect x="365.22" y="475.7" width="2.7" height="3.0" fill="#21907a"/><rect x="365.72" y="476.2" width="1.7" height="2.0" fill="#1f62df"/><rect x="368.52" y="475.4" width="2.7" height="1.2" fill="#ee3a4f"/><rect x="371.82" y="475.4" width="2.7" height="1.5" fill="#21907a"/><rect x="372.32" y="475.9" width="1.7" height="0.5" fill="#1f62df"/><rect x="375.11" y="474.6" width="2.7" height="7.4" fill="#ee3a4f"/><rect x="378.41" y="482.0" width="2.7" height="14.7" fill="#ee3a4f"/><rect x="381.71" y="495.0" width="2.7" height="1.0" fill="#21907a"/><rect x="385.00" y="487.2" width="2.7" height="8.6" fill="#21907a"/><rect x="385.50" y="487.7" width="1.7" height="7.6" fill="#1f62df"/><rect x="388.30" y="487.2" width="2.7" height="10.3" fill="#ee3a4f"/><rect x="391.60" y="494.0" width="2.7" height="3.2" fill="#21907a"/><rect x="392.10" y="494.5" width="1.7" height="2.2" fill="#1f62df"/><rect x="394.89" y="492.8" width="2.7" height="1.0" fill="#ee3a4f"/><rect x="398.19" y="493.2" width="2.7" height="1.0" fill="#21907a"/><rect x="401.49" y="492.9" width="2.7" height="1.5" fill="#ee3a4f"/><rect x="404.78" y="493.1" width="2.7" height="1.0" fill="#21907a"/><rect x="408.08" y="488.9" width="2.7" height="4.8" fill="#21907a"/><rect x="408.58" y="489.4" width="1.7" height="3.8" fill="#1f62df"/><rect x="411.37" y="485.5" width="2.7" height="3.4" fill="#21907a"/><rect x="411.87" y="486.0" width="1.7" height="2.4" fill="#1f62df"/><rect x="414.67" y="475.0" width="2.7" height="10.7" fill="#21907a"/><rect x="415.17" y="475.5" width="1.7" height="9.7" fill="#1f62df"/><rect x="417.97" y="473.5" width="2.7" height="1.1" fill="#ee3a4f"/><rect x="421.26" y="474.6" width="2.7" height="4.0" fill="#ee3a4f"/><rect x="424.56" y="478.4" width="2.7" height="2.5" fill="#ee3a4f"/><rect x="427.86" y="475.1" width="2.7" height="6.2" fill="#21907a"/><rect x="428.36" y="475.6" width="1.7" height="5.2" fill="#1f62df"/><rect x="431.15" y="465.3" width="2.7" height="9.8" fill="#21907a"/><rect x="431.65" y="465.8" width="1.7" height="8.8" fill="#1f62df"/><rect x="434.45" y="458.8" width="2.7" height="6.5" fill="#21907a"/><rect x="434.95" y="459.3" width="1.7" height="5.5" fill="#1f62df"/><rect x="437.75" y="458.8" width="2.7" height="3.2" fill="#ee3a4f"/><rect x="441.04" y="461.0" width="2.7" height="8.9" fill="#ee3a4f"/><rect x="444.34" y="469.6" width="2.7" height="2.2" fill="#ee3a4f"/><rect x="447.63" y="471.8" width="2.7" height="2.7" fill="#ee3a4f"/><rect x="450.93" y="465.3" width="2.7" height="9.2" fill="#21907a"/><rect x="451.43" y="465.8" width="1.7" height="8.2" fill="#1f62df"/><rect x="454.23" y="465.3" width="2.7" height="3.7" fill="#ee3a4f"/><rect x="457.52" y="468.4" width="2.7" height="1.5" fill="#ee3a4f"/><rect x="460.82" y="469.9" width="2.7" height="1.2" fill="#ee3a4f"/><rect x="464.12" y="471.1" width="2.7" height="3.4" fill="#ee3a4f"/><rect x="467.41" y="474.5" width="2.7" height="4.0" fill="#ee3a4f"/><rect x="470.71" y="478.5" width="2.7" height="3.1" fill="#ee3a4f"/><rect x="474.01" y="481.6" width="2.7" height="8.6" fill="#ee3a4f"/><rect x="477.30" y="489.2" width="2.7" height="3.5" fill="#ee3a4f"/><rect x="480.60" y="492.9" width="2.7" height="4.7" fill="#ee3a4f"/><rect x="483.89" y="498.1" width="2.7" height="9.5" fill="#ee3a4f"/><rect x="487.19" y="505.4" width="2.7" height="2.2" fill="#21907a"/><rect x="487.69" y="505.9" width="1.7" height="1.2" fill="#1f62df"/><rect x="490.49" y="505.5" width="2.7" height="1.5" fill="#ee3a4f"/><rect x="493.78" y="493.8" width="2.7" height="12.1" fill="#21907a"/><rect x="494.28" y="494.3" width="1.7" height="11.1" fill="#1f62df"/><rect x="497.08" y="493.8" width="2.7" height="3.9" fill="#ee3a4f"/><rect x="500.38" y="496.1" width="2.7" height="1.6" fill="#21907a"/><rect x="500.88" y="496.6" width="1.7" height="0.6" fill="#1f62df"/><rect x="503.67" y="496.1" width="2.7" height="4.8" fill="#ee3a4f"/><rect x="506.97" y="493.1" width="2.7" height="7.8" fill="#21907a"/><rect x="507.47" y="493.6" width="1.7" height="6.8" fill="#1f62df"/><rect x="510.27" y="493.1" width="2.7" height="1.9" fill="#ee3a4f"/><rect x="513.56" y="494.8" width="2.7" height="4.5" fill="#ee3a4f"/><rect x="516.86" y="499.3" width="2.7" height="2.7" fill="#ee3a4f"/><rect x="520.16" y="500.0" width="2.7" height="1.0" fill="#21907a"/><rect x="523.45" y="498.8" width="2.7" height="2.4" fill="#21907a"/><rect x="523.95" y="499.3" width="1.7" height="1.4" fill="#1f62df"/><rect x="526.75" y="499.1" width="2.7" height="2.5" fill="#ee3a4f"/><rect x="530.04" y="500.4" width="2.7" height="1.2" fill="#21907a"/><rect x="530.54" y="500.9" width="1.7" height="0.2" fill="#1f62df"/><rect x="533.34" y="498.8" width="2.7" height="1.3" fill="#21907a"/><rect x="533.84" y="499.3" width="1.7" height="0.3" fill="#1f62df"/><rect x="536.64" y="495.0" width="2.7" height="3.8" fill="#21907a"/><rect x="537.14" y="495.5" width="1.7" height="2.8" fill="#1f62df"/><rect x="539.93" y="494.8" width="2.7" height="1.3" fill="#ee3a4f"/><rect x="543.23" y="487.8" width="2.7" height="8.1" fill="#21907a"/><rect x="543.73" y="488.3" width="1.7" height="7.1" fill="#1f62df"/><rect x="546.53" y="486.6" width="2.7" height="1.0" fill="#ee3a4f"/><rect x="549.82" y="488.2" width="2.7" height="2.9" fill="#ee3a4f"/><rect x="553.12" y="491.1" width="2.7" height="4.9" fill="#ee3a4f"/><rect x="556.42" y="496.0" width="2.7" height="6.8" fill="#ee3a4f"/><rect x="559.71" y="501.5" width="2.7" height="1.0" fill="#21907a"/><rect x="563.01" y="500.9" width="2.7" height="1.0" fill="#21907a"/><rect x="566.31" y="500.1" width="2.7" height="1.0" fill="#21907a"/><rect x="569.60" y="499.5" width="2.7" height="1.0" fill="#ee3a4f"/><rect x="572.90" y="500.3" width="2.7" height="7.0" fill="#ee3a4f"/><rect x="576.19" y="502.8" width="2.7" height="4.5" fill="#21907a"/><rect x="576.69" y="503.3" width="1.7" height="3.5" fill="#1f62df"/><rect x="579.49" y="502.8" width="2.7" height="1.8" fill="#ee3a4f"/><rect x="582.79" y="503.9" width="2.7" height="1.0" fill="#21907a"/><rect x="586.08" y="503.0" width="2.7" height="1.0" fill="#21907a"/><rect x="589.38" y="503.2" width="2.7" height="6.8" fill="#ee3a4f"/><rect x="592.68" y="506.4" width="2.7" height="3.1" fill="#21907a"/><rect x="593.18" y="506.9" width="1.7" height="2.1" fill="#1f62df"/><rect x="595.97" y="505.7" width="2.7" height="1.0" fill="#21907a"/><rect x="599.27" y="497.8" width="2.7" height="7.7" fill="#21907a"/><rect x="599.77" y="498.3" width="1.7" height="6.7" fill="#1f62df"/><rect x="602.57" y="497.6" width="2.7" height="1.0" fill="#ee3a4f"/><rect x="605.86" y="498.6" width="2.7" height="1.0" fill="#ee3a4f"/><rect x="609.16" y="498.9" width="2.7" height="1.1" fill="#21907a"/><rect x="612.45" y="494.4" width="2.7" height="4.2" fill="#21907a"/><rect x="612.95" y="494.9" width="1.7" height="3.2" fill="#1f62df"/><rect x="615.75" y="494.1" width="2.7" height="1.4" fill="#ee3a4f"/><rect x="619.05" y="495.5" width="2.7" height="3.4" fill="#ee3a4f"/><rect x="622.34" y="498.9" width="2.7" height="3.0" fill="#ee3a4f"/><rect x="625.64" y="500.7" width="2.7" height="1.1" fill="#21907a"/><rect x="628.94" y="498.2" width="2.7" height="2.8" fill="#21907a"/><rect x="629.44" y="498.7" width="1.7" height="1.8" fill="#1f62df"/><rect x="632.23" y="495.9" width="2.7" height="1.4" fill="#21907a"/><rect x="632.73" y="496.4" width="1.7" height="0.4" fill="#1f62df"/><rect x="635.53" y="495.5" width="2.7" height="1.0" fill="#21907a"/><rect x="638.83" y="491.4" width="2.7" height="4.5" fill="#21907a"/><rect x="639.33" y="491.9" width="1.7" height="3.5" fill="#1f62df"/><rect x="642.12" y="491.4" width="2.7" height="3.6" fill="#ee3a4f"/><rect x="645.42" y="493.2" width="2.7" height="1.8" fill="#21907a"/><rect x="645.92" y="493.7" width="1.7" height="0.8" fill="#1f62df"/><rect x="648.72" y="491.2" width="2.7" height="1.6" fill="#21907a"/><rect x="649.22" y="491.7" width="1.7" height="0.6" fill="#1f62df"/><rect x="652.01" y="491.0" width="2.7" height="1.6" fill="#ee3a4f"/><rect x="655.31" y="482.7" width="2.7" height="10.1" fill="#21907a"/><rect x="655.81" y="483.2" width="1.7" height="9.1" fill="#1f62df"/><rect x="658.60" y="477.0" width="2.7" height="5.4" fill="#21907a"/><rect x="659.10" y="477.5" width="1.7" height="4.4" fill="#1f62df"/><rect x="661.90" y="472.3" width="2.7" height="4.3" fill="#21907a"/><rect x="662.40" y="472.8" width="1.7" height="3.3" fill="#1f62df"/><rect x="665.20" y="472.5" width="2.7" height="3.2" fill="#ee3a4f"/><rect x="668.49" y="476.1" width="2.7" height="10.5" fill="#ee3a4f"/><rect x="671.79" y="486.6" width="2.7" height="7.1" fill="#ee3a4f"/><rect x="675.09" y="493.7" width="2.7" height="3.0" fill="#ee3a4f"/><rect x="678.38" y="495.9" width="2.7" height="1.0" fill="#21907a"/><rect x="681.68" y="492.2" width="2.7" height="3.9" fill="#21907a"/><rect x="682.18" y="492.7" width="1.7" height="2.9" fill="#1f62df"/><rect x="684.98" y="491.2" width="2.7" height="1.0" fill="#21907a"/><rect x="688.27" y="489.0" width="2.7" height="3.0" fill="#21907a"/><rect x="688.77" y="489.5" width="1.7" height="2.0" fill="#1f62df"/><rect x="691.57" y="489.0" width="2.7" height="3.7" fill="#ee3a4f"/><rect x="694.86" y="492.7" width="2.7" height="1.4" fill="#ee3a4f"/><rect x="698.16" y="493.0" width="2.7" height="1.4" fill="#21907a"/><rect x="698.66" y="493.5" width="1.7" height="0.4" fill="#1f62df"/><rect x="701.46" y="493.0" width="2.7" height="1.9" fill="#ee3a4f"/><rect x="704.75" y="490.0" width="2.7" height="5.1" fill="#21907a"/><rect x="705.25" y="490.5" width="1.7" height="4.1" fill="#1f62df"/><rect x="708.05" y="489.2" width="2.7" height="1.0" fill="#21907a"/><rect x="711.35" y="488.9" width="2.7" height="1.0" fill="#21907a"/><rect x="714.64" y="483.9" width="2.7" height="5.6" fill="#21907a"/><rect x="715.14" y="484.4" width="1.7" height="4.6" fill="#1f62df"/><rect x="717.94" y="482.9" width="2.7" height="1.0" fill="#21907a"/><rect x="721.24" y="474.1" width="2.7" height="9.0" fill="#21907a"/><rect x="721.74" y="474.6" width="1.7" height="8.0" fill="#1f62df"/><rect x="724.53" y="470.2" width="2.7" height="3.6" fill="#21907a"/><rect x="725.03" y="470.7" width="1.7" height="2.6" fill="#1f62df"/><rect x="727.83" y="462.0" width="2.7" height="8.0" fill="#21907a"/><rect x="728.33" y="462.5" width="1.7" height="7.0" fill="#1f62df"/><rect x="731.13" y="454.7" width="2.7" height="7.4" fill="#21907a"/><rect x="731.63" y="455.2" width="1.7" height="6.4" fill="#1f62df"/><rect x="734.42" y="454.9" width="2.7" height="1.6" fill="#ee3a4f"/><rect x="737.72" y="455.6" width="2.7" height="1.0" fill="#21907a"/><rect x="741.01" y="455.2" width="2.7" height="3.7" fill="#ee3a4f"/><rect x="744.31" y="458.4" width="2.7" height="1.0" fill="#21907a"/><rect x="747.61" y="456.9" width="2.7" height="2.0" fill="#21907a"/><rect x="748.11" y="457.4" width="1.7" height="1.0" fill="#1f62df"/><rect x="750.90" y="456.9" width="2.7" height="11.1" fill="#ee3a4f"/><rect x="754.20" y="462.1" width="2.7" height="6.2" fill="#21907a"/><rect x="754.70" y="462.6" width="1.7" height="5.2" fill="#1f62df"/><rect x="757.50" y="454.9" width="2.7" height="7.2" fill="#21907a"/><rect x="758.00" y="455.4" width="1.7" height="6.2" fill="#1f62df"/><rect x="760.79" y="436.0" width="2.7" height="18.7" fill="#21907a"/><rect x="761.29" y="436.5" width="1.7" height="17.7" fill="#1f62df"/><rect x="764.09" y="420.9" width="2.7" height="15.5" fill="#21907a"/><rect x="764.59" y="421.4" width="1.7" height="14.5" fill="#1f62df"/><rect x="767.39" y="420.9" width="2.7" height="8.5" fill="#ee3a4f"/><rect x="770.68" y="429.0" width="2.7" height="7.4" fill="#ee3a4f"/><rect x="773.98" y="436.4" width="2.7" height="2.6" fill="#ee3a4f"/><rect x="777.27" y="437.9" width="2.7" height="1.1" fill="#21907a"/><rect x="780.57" y="438.2" width="2.7" height="8.6" fill="#ee3a4f"/><rect x="783.87" y="439.9" width="2.7" height="6.9" fill="#21907a"/><rect x="784.37" y="440.4" width="1.7" height="5.9" fill="#1f62df"/><rect x="787.16" y="427.2" width="2.7" height="12.7" fill="#21907a"/><rect x="787.66" y="427.7" width="1.7" height="11.7" fill="#1f62df"/><rect x="790.46" y="399.2" width="2.7" height="27.9" fill="#21907a"/><rect x="790.96" y="399.7" width="1.7" height="26.9" fill="#1f62df"/><rect x="793.76" y="399.2" width="2.7" height="3.6" fill="#ee3a4f"/><rect x="797.05" y="393.3" width="2.7" height="9.5" fill="#21907a"/><rect x="797.55" y="393.8" width="1.7" height="8.5" fill="#1f62df"/><rect x="800.35" y="375.0" width="2.7" height="18.3" fill="#21907a"/><rect x="800.85" y="375.5" width="1.7" height="17.3" fill="#1f62df"/><rect x="803.65" y="312.8" width="2.7" height="62.7" fill="#21907a"/><rect x="804.15" y="313.3" width="1.7" height="61.7" fill="#1f62df"/><rect x="806.94" y="234.3" width="2.7" height="78.5" fill="#21907a"/><rect x="807.44" y="234.8" width="1.7" height="77.5" fill="#1f62df"/><rect x="810.24" y="204.0" width="2.7" height="30.3" fill="#21907a"/><rect x="810.74" y="204.5" width="1.7" height="29.3" fill="#1f62df"/><rect x="813.54" y="184.3" width="2.7" height="19.7" fill="#21907a"/><rect x="814.04" y="184.8" width="1.7" height="18.7" fill="#1f62df"/><rect x="816.83" y="184.3" width="2.7" height="38.3" fill="#ee3a4f"/><rect x="820.13" y="202.3" width="2.7" height="20.3" fill="#21907a"/><rect x="820.63" y="202.8" width="1.7" height="19.3" fill="#1f62df"/><rect x="823.42" y="202.3" width="2.7" height="18.1" fill="#ee3a4f"/><rect x="826.72" y="218.3" width="2.7" height="2.8" fill="#21907a"/><rect x="827.22" y="218.8" width="1.7" height="1.8" fill="#1f62df"/><rect x="830.02" y="213.4" width="2.7" height="4.3" fill="#21907a"/><rect x="830.52" y="213.9" width="1.7" height="3.3" fill="#1f62df"/><rect x="833.31" y="192.8" width="2.7" height="20.6" fill="#21907a"/><rect x="833.81" y="193.3" width="1.7" height="19.6" fill="#1f62df"/><rect x="836.61" y="192.1" width="2.7" height="1.7" fill="#ee3a4f"/></g>
<line x1="43.8" y1="364.5" x2="880" y2="364.5" stroke="#f5a020" stroke-width="1.4" stroke-dasharray="5.1,6.35"/>
<path d="M59.2,364.2 C286.3,563.6 569.7,567.05 804.0,365.9" fill="none" stroke="#2a9d80" stroke-width="1.4"/>
<line x1="762" y1="141.4" x2="880" y2="141.4" stroke="#6cccd8" stroke-width="1.1"/>
<line x1="821" y1="245" x2="880" y2="245" stroke="#8ad6e0" stroke-width="1.1"/>
</g>
<rect x="880.5" y="135.2" width="41.6" height="12" fill="#00bcd4"/>
<text x="918.2" y="144.4" text-anchor="end" font-family="Liberation Sans" font-size="9.1" fill="#131722">0.43873</text>
<rect x="880.5" y="238.8" width="41.6" height="12" fill="#00bcd4"/>
<text x="918.2" y="248.0" text-anchor="end" font-family="Liberation Sans" font-size="9.1" fill="#131722">0.34128</text>
<rect x="880.5" y="358.5" width="41.6" height="12" fill="#ff9800"/>
<text x="918.2" y="367.7" text-anchor="end" font-family="Liberation Sans" font-size="9.1" fill="#131722">0.22869</text>
<g fill="#131722"><path d="M4.9,585.1 h3.9 v4.7 h-1.8 v-2.7 h-2.1 z"/><circle cx="10.8" cy="586.1" r="0.75"/><path d="M12.5,585.1 h2.4 l-1.4,4.7 h-2.4 z"/></g>
<text x="17.2" y="590.5" font-family="Liberation Sans" font-size="6.95" fill="#131722">TradingView</text>
<text x="781.7" y="601.9" font-family="Liberation Sans" font-size="27.5" fill="#1e90ff">Yunnx.com</text>
</svg>
</body></html>
